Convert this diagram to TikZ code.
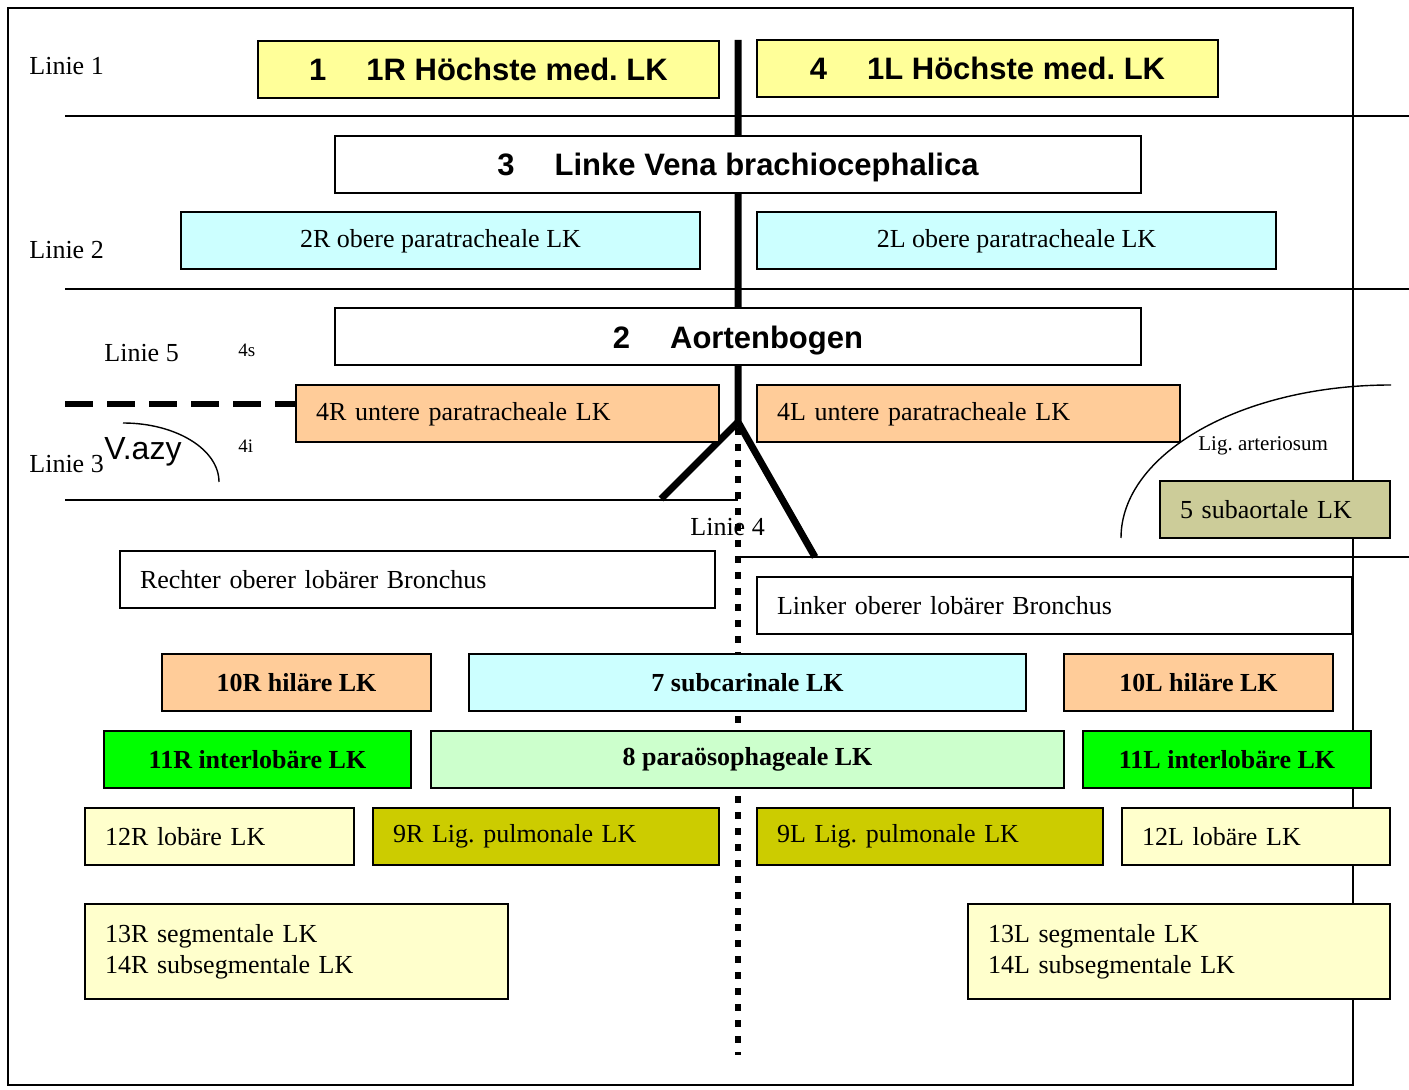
\documentclass[tikz,border=0pt]{standalone}
\usepackage{fontspec}
\setmainfont{Liberation Serif}
\setsansfont{Liberation Sans}
\usetikzlibrary{positioning}
\frenchspacing

\definecolor{lkyellow}{HTML}{FFFF99}
\definecolor{lkcyan}{HTML}{CCFFFF}
\definecolor{lkorange}{HTML}{FFCC99}
\definecolor{lkolive}{HTML}{CCCC99}
\definecolor{lkgreen}{HTML}{00FF00}
\definecolor{lkmint}{HTML}{CCFFCC}
\definecolor{lkmustard}{HTML}{CCCC00}
\definecolor{lkcream}{HTML}{FFFFCC}

\tikzset{lk/.style={draw, line width=1pt, minimum height=28.5pt, inner sep=0pt,
    font=\fontsize{13}{15.5}\selectfont}}
\tikzset{lkbig/.style={lk, fill=white, text depth=0pt, font=\sffamily\bfseries\fontsize{15.5}{18}\selectfont}}
\tikzset{lkbold/.style={lk, font=\bfseries\fontsize{13}{15.5}\selectfont}}
\tikzset{lkleft/.style={lk, align=left, inner xsep=10pt, text width=#1}}
\tikzset{linie/.style={anchor=west, inner sep=0pt, font=\fontsize{13}{15.5}\selectfont}}
\tikzset{klein/.style={anchor=west, inner sep=0pt, font=\fontsize{9.5}{11}\selectfont}}
\tikzset{sep/.style={line width=0.8pt}}

\begin{document}
\begin{tikzpicture}[x=0.5pt, y=-0.5pt]
  \useasboundingbox (0,0) rectangle (1409,1090);
  % frame and level lines
  \draw[line width=0.8pt] (8,8) rectangle (1353,1085);
  \coordinate (l1a) at (65,116);  \coordinate (l1b) at (1409,116);
  \coordinate (l2a) at (65,289);  \coordinate (l2b) at (1409,289);
  \coordinate (l3a) at (65,500);  \coordinate (l3b) at (738,500);
  \coordinate (l4a) at (738,557); \coordinate (l4b) at (1409,557);
  \draw[sep] (l1a) -- (l1b);
  \draw[sep] (l2a) -- (l2b);
  \draw[sep] (l3a) -- (l3b);
  \draw[sep] (l4a) -- (l4b);
  % trachea and oesophagus
  \coordinate (tracheatop) at (738,40);
  \coordinate (carina) at (738,422);
  \coordinate (hauptr) at (661,499);
  \coordinate (hauptl) at (815,557);
  \coordinate (oes1) at (738,428);
  \coordinate (oes2) at (738,1055);
  \draw[line width=3.5pt, line join=miter] (tracheatop) -- (carina) -- (hauptl);
  \draw[line width=3.5pt] (carina) -- (hauptr);
  \node[linie] (linie4) at (690,527) {Linie 4};
  \draw[line width=3pt, dash pattern=on 3.5pt off 4.5pt] (oes1) -- (oes2);
  % dashed line 5
  \coordinate (l5a) at (65,404);
  \coordinate (l5b) at (298,404);
  \draw[line width=3pt, dash pattern=on 14pt off 7pt] (l5a) -- (l5b);

  % level labels
  \node[linie] (linie1) at (29,66) {Linie 1};
  \node[linie] (linie2) at (29,250) {Linie 2};
  \node[linie] (linie5) at (104,353) {Linie 5};
  \node[linie] (linie3) at (29,464) {Linie 3};
  \node[klein] (n4s) at (238,350) {4s};
  \node[klein] (n4i) at (238,446) {4i};
  \node[anchor=west, inner sep=0pt, font=\sffamily\fontsize{16}{18}\selectfont] (vazy) at (104,452) {V.azy};
  \node[klein, font=\fontsize{10.5}{12}\selectfont] (ligart) at (1198,446) {Lig. arteriosum};
  \draw[line width=0.7pt] (123,423) arc[start angle=90, end angle=0, x radius=96, y radius=-59];
  \draw[line width=0.7pt] (1391,385) arc[start angle=90, end angle=180, x radius=270, y radius=-153];

  % lymph node stations
  \node[lkbig, fill=lkyellow, minimum width=230.5pt] (n1R) at (488.5,69.5)
    {1\hspace{20pt}1R Höchste med. LK};
  \node[lkbig, fill=lkyellow, minimum width=230.5pt] (n1L) at (987.5,68.5)
    {4\hspace{20pt}1L Höchste med. LK};
  \node[lkbig, minimum width=403pt] (n3) at (738,164.5)
    {3\hspace{20pt}Linke Vena brachiocephalica};
  \node[lk, fill=lkcyan, minimum width=259.5pt] (n2R) at (440.5,241) {2R obere paratracheale LK};
  \node[lk, fill=lkcyan, minimum width=259.5pt] (n2L) at (1016.5,241) {2L obere paratracheale LK};
  \node[lkbig, minimum width=403pt] (n2) at (738,337) {2\hspace{20pt}Aortenbogen};
  \node[lkleft=191.5pt, fill=lkorange] (n4R) at (507.5,414) {4R untere paratracheale LK};
  \node[lkleft=191.5pt, fill=lkorange] (n4L) at (968.5,414) {4L untere paratracheale LK};
  \node[lkleft=95pt, fill=lkolive] (n5) at (1275,510) {5 subaortale LK};
  \node[lkleft=277.5pt, fill=white] (bronchR) at (417.5,579.5) {Rechter oberer lobärer Bronchus};
  \node[lkleft=277.5pt, fill=white] (bronchL) at (1054.5,605.5) {Linker oberer lobärer Bronchus};
  \node[lkbold, fill=lkorange, minimum width=134.5pt] (n10R) at (296.5,682.5) {10R hiläre LK};
  \node[lkbold, fill=lkcyan, minimum width=278.5pt] (n7) at (747.5,682.5) {7 subcarinale LK};
  \node[lkbold, fill=lkorange, minimum width=134.5pt] (n10L) at (1198.5,682.5) {10L hiläre LK};
  \node[lkbold, fill=lkgreen, minimum width=153.5pt] (n11R) at (257.5,759.5) {11R interlobäre LK};
  \node[lkbold, fill=lkmint, minimum width=316.5pt] (n8) at (747.5,759.5) {8 paraösophageale LK};
  \node[lkbold, fill=lkgreen, minimum width=144pt] (n11L) at (1227,759.5) {11L interlobäre LK};
  \node[lkleft=114.5pt, fill=lkcream] (n12R) at (219.5,836.5) {12R lobäre LK};
  \node[lkleft=153pt, fill=lkmustard] (n9R) at (546,836.5) {9R Lig. pulmonale LK};
  \node[lkleft=153pt, fill=lkmustard] (n9L) at (930,836.5) {9L Lig. pulmonale LK};
  \node[lkleft=114pt, fill=lkcream] (n12L) at (1256,836.5) {12L lobäre LK};
  \node[lkleft=191.5pt, fill=lkcream, minimum height=47.5pt] (n13R) at (296.5,951.5)
    {13R segmentale LK\\14R subsegmentale LK};
  \node[lkleft=191pt, fill=lkcream, minimum height=47.5pt] (n13L) at (1179,951.5)
    {13L segmentale LK\\14L subsegmentale LK};
\end{tikzpicture}
\end{document}
